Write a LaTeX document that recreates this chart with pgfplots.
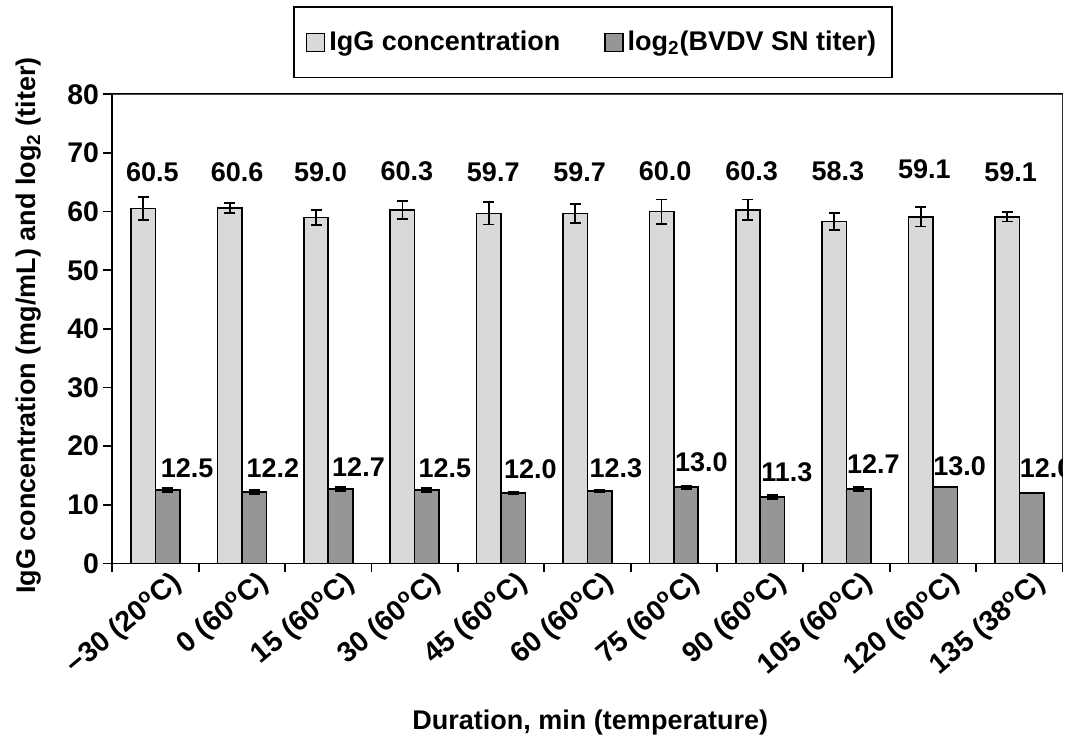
\documentclass[border=0pt]{standalone}
\usepackage{fontspec}
\setmainfont{Liberation Sans}
\usepackage{pgfplots}
\pgfplotsset{compat=1.18}
\definecolor{lightbar}{RGB}{217,217,217}
\definecolor{darkbar}{RGB}{150,150,150}
\definecolor{framegray}{RGB}{70,70,70}
\newcommand{\fs}{\fontsize{13.5}{15.5}\selectfont\bfseries}
\newcommand{\fx}{\fontsize{14.2}{16}\selectfont\bfseries}
\begin{document}
\begin{tikzpicture}
\begin{axis}[
  scale only axis,
  width=475pt, height=234.5pt,
  ymin=0, ymax=80, ytick={0,10,...,80},
  xmin=-0.5, xmax=10.5,
  xtick={0,...,10},
  xticklabels={−30 (20\textsuperscript{o}C),0 (60\textsuperscript{o}C),15 (60\textsuperscript{o}C),30 (60\textsuperscript{o}C),45 (60\textsuperscript{o}C),60 (60\textsuperscript{o}C),75 (60\textsuperscript{o}C),90 (60\textsuperscript{o}C),105 (60\textsuperscript{o}C),120 (60\textsuperscript{o}C),135 (38\textsuperscript{o}C)},
  minor xtick={-0.5,0.5,...,10.5},
  major x tick style={draw=none},
  minor tick length=4.5pt, major tick length=4.5pt,
  tick align=outside, xtick pos=bottom, ytick pos=left,
  tick style={black, line width=0.9pt},
  x tick label style={rotate=40, anchor=north east, font=\fx, inner sep=1pt, xshift=7.5pt, yshift=-2pt},
  y tick label style={font=\fx, inner xsep=2pt},
  /pgf/number format/assume math mode=true,
  axis line style={black, line width=0.9pt},
  ylabel={IgG concentration (mg/mL) and log\textsubscript{2} (titer)},
  ylabel style={at={(axis description cs:-0.0877,0.507)}, anchor=center, font=\fs},
  xlabel={Duration, min (temperature)},
  xlabel style={at={(axis description cs:0.503,0)}, anchor=center, yshift=-79.5pt, font=\fs},
  ybar=0pt, bar width=0.283,
  legend columns=2,
  legend style={at={(0.506,1)}, anchor=south, yshift=8pt, draw=black, line width=0.9pt,
    font=\fs, inner xsep=6pt, inner ysep=10pt,
    nodes={inner xsep=2pt},
    /tikz/every even column/.append style={column sep=20pt}},
  legend image code/.code={\draw[#1, line width=0.6pt] (0pt,-4.5pt) rectangle (9pt,4.5pt);},
  error bars/error bar style={black, line width=0.9pt},
  error bars/error mark options={rotate=90, mark size=2.75pt, line width=0.9pt, black},
]
\addplot[fill=lightbar, draw=black, line width=0.8pt,
  error bars/.cd, y dir=both, y explicit]
  coordinates {
  (0,60.5) +- (0,2.0)
  (1,60.6) +- (0,0.9)
  (2,59.0) +- (0,1.25)
  (3,60.3) +- (0,1.5)
  (4,59.7) +- (0,1.9)
  (5,59.7) +- (0,1.6)
  (6,60.0) +- (0,2.05)
  (7,60.3) +- (0,1.75)
  (8,58.3) +- (0,1.4)
  (9,59.1) +- (0,1.65)
  (10,59.1) +- (0,0.8)
  };
\addlegendentry{IgG concentration}
\addplot[fill=darkbar, draw=black, line width=0.8pt,
  error bars/.cd, y dir=both, y explicit]
  coordinates {
  (0,12.5) +- (0,0.3)
  (1,12.2) +- (0,0.3)
  (2,12.7) +- (0,0.3)
  (3,12.5) +- (0,0.3)
  (4,12.0) +- (0,0.25)
  (5,12.3) +- (0,0.2)
  (6,13.0) +- (0,0.3)
  (7,11.3) +- (0,0.3)
  (8,12.7) +- (0,0.3)
  (9,13.0) +- (0,0)
  (10,12.0) +- (0,0)
  };
\addlegendentry{log\textsubscript{2}(BVDV SN titer)}
\draw[framegray, line width=0.9pt] (rel axis cs:0,1) -- (rel axis cs:1,1) -- (rel axis cs:1,0);
\begin{scope}[every node/.style={font=\fs, inner sep=0pt}]
\node at (axis cs:-0.035,66.8) {60.5};
\node at (axis cs:0.945,66.8) {60.6};
\node at (axis cs:1.91,66.8) {59.0};
\node at (axis cs:2.91,66.8) {60.3};
\node at (axis cs:3.91,66.8) {59.7};
\node at (axis cs:4.91,66.8) {59.7};
\node at (axis cs:5.9,66.9) {60.0};
\node at (axis cs:6.9,66.8) {60.3};
\node at (axis cs:7.9,66.8) {58.3};
\node at (axis cs:8.9,67.3) {59.1};
\node at (axis cs:9.9,66.8) {59.1};
\node at (axis cs:0.365,16.2) {12.5};
\node at (axis cs:1.36,16.2) {12.2};
\node at (axis cs:2.35,16.5) {12.7};
\node at (axis cs:3.35,16.2) {12.5};
\node at (axis cs:4.34,16.1) {12.0};
\node at (axis cs:5.33,16.2) {12.3};
\node at (axis cs:6.32,17.3) {13.0};
\node at (axis cs:7.31,15.6) {11.3};
\node at (axis cs:8.31,17.0) {12.7};
\node at (axis cs:9.31,16.5) {13.0};
\node at (axis cs:10.31,16.2) {12.0};
\end{scope}
\end{axis}
\pgfresetboundingbox
\path ([xshift=-56.15pt,yshift=-87.35pt]current axis.south west) rectangle ([xshift=3.75pt,yshift=47.15pt]current axis.north east);
\end{tikzpicture}
\end{document}
